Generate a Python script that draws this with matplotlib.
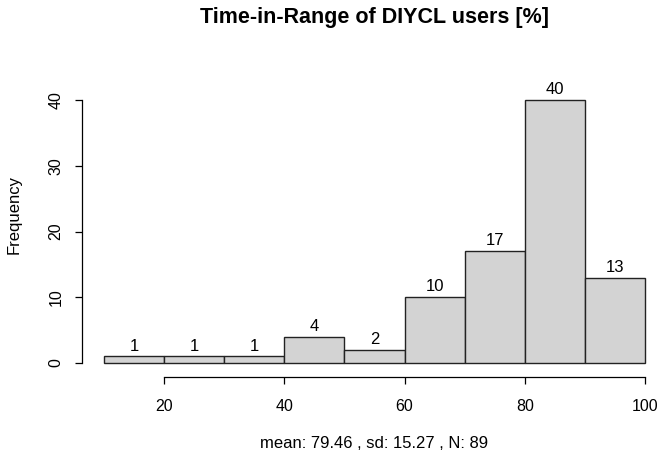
import matplotlib
matplotlib.use("Agg")
import matplotlib.pyplot as plt

# histogram of Time-in-Range, 10-point bins
bin_edges = [10, 20, 30, 40, 50, 60, 70, 80, 90, 100]
counts = [1, 1, 1, 4, 2, 10, 17, 40, 13]
x_ticks = [20, 40, 60, 80, 100]
y_ticks = [0, 10, 20, 30, 40]
title = "Time-in-Range of DIYCL users [%]"
subtitle = "mean: 79.46 , sd: 15.27 , N: 89"

plt.rcParams['font.family'] = ['Liberation Sans', 'DejaVu Sans']

W, H = 666, 463
fig = plt.figure(figsize=(W / 100, H / 100), dpi=100)
# plot region in pixels: x 10->104px, 100->645px ; y 0->363px, 40->100px
ax = fig.add_axes([104 / W, (H - 363) / H, (645 - 104) / W, (363 - 100) / H])

lefts = bin_edges[:-1]
widths = [b - a for a, b in zip(bin_edges[:-1], bin_edges[1:])]
ax.bar(lefts, counts, width=widths, align='edge', color='#d3d3d3',
       edgecolor='#222222', linewidth=1.0, clip_on=False)

for x, w, c in zip(lefts, widths, counts):
    ax.annotate(str(c), (x + w / 2, c), xytext=(0, 2), textcoords='offset points',
                ha='center', va='bottom', fontsize=12, annotation_clip=False)

ax.set_xlim(10, 100)
ax.set_ylim(0, 40)

for s in ['top', 'right']:
    ax.spines[s].set_visible(False)
ax.spines['bottom'].set_position(('outward', 10))
ax.spines['left'].set_position(('outward', 16))
ax.spines['bottom'].set_bounds(20, 100)
ax.spines['left'].set_bounds(0, 40)
ax.spines['bottom'].set_linewidth(0.9)
ax.spines['left'].set_linewidth(0.9)

ax.set_xticks(x_ticks)
ax.set_yticks(y_ticks)
ax.tick_params(axis='both', direction='out', length=5, width=0.9, labelsize=11.5)
ax.tick_params(axis='x', pad=11)
ax.tick_params(axis='y', pad=8)
for lab in ax.get_yticklabels():
    lab.set_rotation(90)
    lab.set_va('center')

fig.text(375 / W, 1 - 18 / H, title, ha='center', va='center', fontsize=15.5, fontweight='bold')
fig.text(374 / W, 1 - 443 / H, subtitle, ha='center', va='center', fontsize=12)
fig.text(14 / W, 1 - 215 / H, "Frequency", ha='center', va='center', rotation=90, fontsize=12)

fig.savefig("out.png", dpi=100)
